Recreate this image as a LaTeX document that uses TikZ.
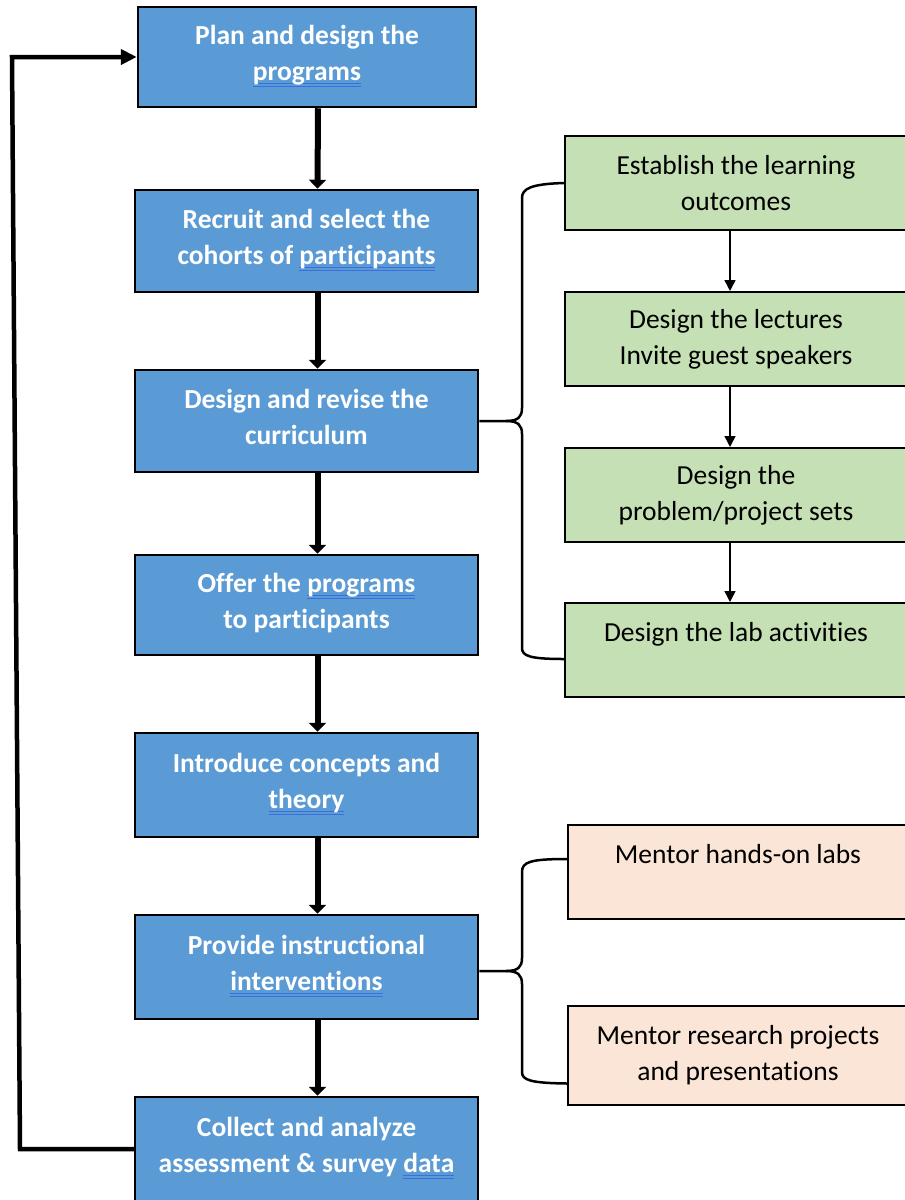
\documentclass[tikz,border=0pt]{standalone}
\usepackage{fontspec}
\setmainfont{Carlito}[Ligatures=NoCommon]
\usetikzlibrary{arrows.meta}
\definecolor{stageblue}{HTML}{5B9BD5}
\definecolor{taskgreen}{HTML}{C5E0B4}
\definecolor{mentorpeach}{HTML}{FBE5D6}
\definecolor{checkblue}{HTML}{3B6FE0}
\newsavebox\chkbox
\newcommand\chk[1]{\sbox\chkbox{#1}\rlap{\color{checkblue}\rule[-3pt]{\wd\chkbox}{0.9pt}\llap{\rule[-6pt]{\wd\chkbox}{0.9pt}}}\usebox\chkbox}
\tikzset{
  stagebox/.style={draw=black, line width=2.5pt, fill=stageblue, text=white,
    font=\bfseries\fontsize{27.5}{36}\selectfont, align=center, text depth=8pt,
    minimum width=343pt, minimum height=102pt, inner sep=0pt},
  taskbox/.style={draw=black, line width=2pt, fill=taskgreen,
    font=\fontsize{27.5}{36}\selectfont, align=center,
    minimum width=342pt, minimum height=94pt, inner sep=0pt},
  mentorbox/.style={taskbox, fill=mentorpeach},
  flow/.style={line width=6pt, -{Triangle[length=9pt,width=17pt]}},
  subflow/.style={line width=1.5pt, -{Triangle[length=11pt,width=11pt]}},
  feedback/.style={line width=4.5pt, -{Triangle[length=16pt,width=15pt]}},
  brace/.style={line width=2.5pt},
}
\begin{document}
\begin{tikzpicture}[x=1pt, y=-1pt]
    \useasboundingbox (0,0) rectangle (905,1200);
    % main stages
    \node[stagebox, minimum width=338pt, minimum height=100pt] (plan) at (307,57) {Plan and design the\\\chk{programs}};
    \node[stagebox] (recruit) at (306.5,241) {Recruit and select the\\cohorts of \chk{participants}};
    \node[stagebox] (curric) at (306.5,421) {Design and revise the\\curriculum};
    \node[stagebox, minimum height=100pt] (offer) at (306.5,605) {Offer the \chk{programs}\\to participants};
    \node[stagebox, minimum height=104pt] (intro) at (306.5,785) {Introduce concepts and\\\chk{theory}};
    \node[stagebox, minimum height=104pt] (provide) at (306.5,967) {Provide instructional\\\chk{interventions}};
    \node[stagebox, minimum height=104pt] (collect) at (306.5,1149) {Collect and analyze\\assessment \& survey \chk{data}};
    % curriculum tasks
    \node[taskbox] (outcomes) at (736,183) {Establish the learning\\outcomes};
    \node[taskbox] (lectures) at (736,339) {Design the lectures\\Invite guest speakers};
    \node[taskbox] (psets) at (736,495) {Design the\\problem/project sets};
    \node[taskbox] (labs) at (736,650) {Design the lab activities\\\mbox{}};
    % mentoring
    \node[mentorbox, minimum width=340pt] (handson) at (738,872) {Mentor hands-on labs\\\mbox{}};
    \node[mentorbox, minimum width=340pt, minimum height=99pt] (research) at (738,1055.5) {Mentor research projects\\and presentations};
    % arrows
    \foreach \a/\b in {plan/recruit, recruit/curric, curric/offer, offer/intro, intro/provide, provide/collect}
        \draw[flow] ([xshift=11pt]\a.south) -- ([xshift=11pt]\b.north);
    \foreach \a/\b in {outcomes/lectures, lectures/psets, psets/labs}
        \draw[subflow] ([xshift=-6pt]\a.south) -- ([xshift=-6pt]\b.north);
    \draw[feedback] (collect.west) -- (20,1149) -- (12,57) -- (plan.west);
    % braces
    \draw[brace] (curric.east) -- (506,421) .. controls (518,421) and (522,417) .. (522,408) -- (522,198) .. controls (522,189) and (530,184) .. (outcomes.west);
    \draw[brace] (506,421) .. controls (518,421) and (522,425) .. (522,434) -- (522,648) .. controls (522,656) and (530,659) .. ([yshift=-9pt]labs.west);
    \draw[brace] ([yshift=-4pt]provide.east) -- (506,971) .. controls (518,971) and (522,967) .. (522,958) -- (522,872) .. controls (522,862) and (530,859) .. ([yshift=13pt]handson.west);
    \draw[brace] (506,971) .. controls (518,971) and (522,975) .. (522,984) -- (522,1072) .. controls (522,1080) and (530,1083) .. ([yshift=-28pt]research.west);
\end{tikzpicture}
\end{document}
